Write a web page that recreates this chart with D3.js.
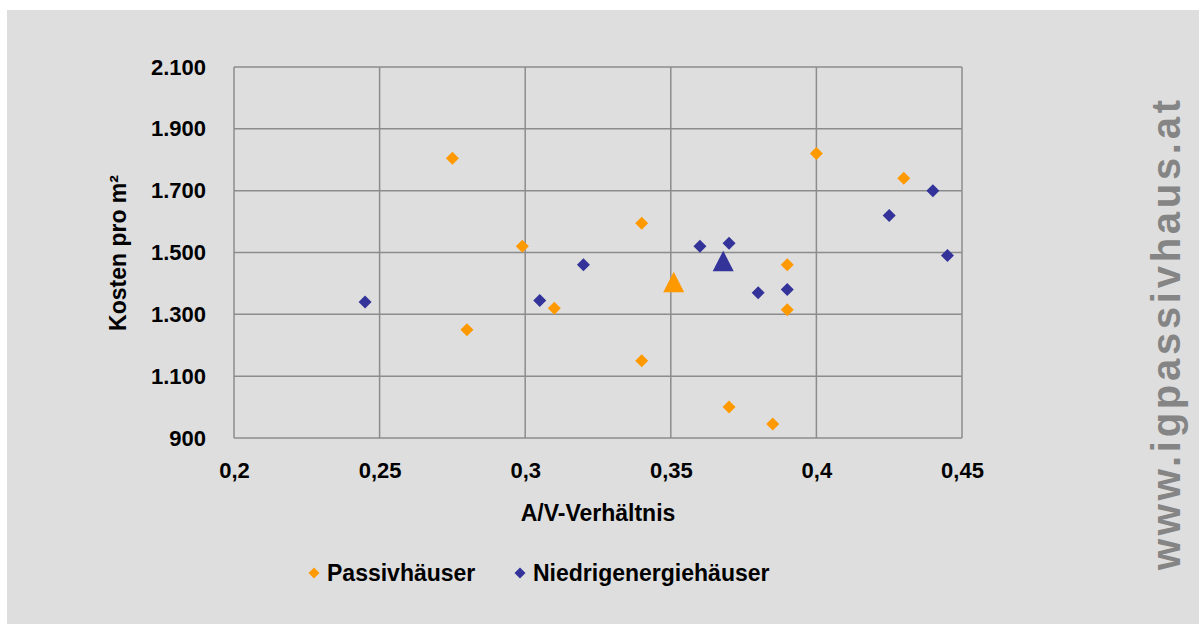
<!DOCTYPE html>
<html><head><meta charset="utf-8">
<script src="https://cdn.jsdelivr.net/npm/d3@7"></script>
<style>html,body{margin:0;padding:0;background:#fff;}svg{display:block;font-family:"Liberation Sans",Arial,sans-serif;}</style>
</head><body>
<svg id="c" width="1199" height="624"></svg>
<script>
const passivX = [0.275, 0.28, 0.299, 0.31, 0.34, 0.34, 0.37, 0.385, 0.39, 0.39, 0.40, 0.43];
const passivY = [1805, 1250, 1520, 1320, 1595, 1150, 1000, 945, 1460, 1315, 1820, 1740];
const niedrigX = [0.245, 0.305, 0.32, 0.36, 0.37, 0.38, 0.39, 0.425, 0.44, 0.445];
const niedrigY = [1340, 1345, 1460, 1520, 1530, 1370, 1380, 1620, 1700, 1490];
const passivMean = [0.351, 1404];
const niedrigMean = [0.368, 1472];
const xTicks = [0.2, 0.25, 0.3, 0.35, 0.4, 0.45];
const yTicks = [900, 1100, 1300, 1500, 1700, 1900, 2100];
const seriesNames = ["Passivhäuser", "Niedrigenergiehäuser"];
const colors = ["#FF9900", "#333399"];

const svg = d3.select("#c");
svg.append("rect").attr("x",7).attr("y",10).attr("width",1192).attr("height",614).attr("fill","#dedede");

const L=234, R=962, T=67, B=438;
const x = d3.scaleLinear().domain([0.2,0.45]).range([L,R]);
const y = d3.scaleLinear().domain([900,2100]).range([B,T]);

const g = svg.append("g");
g.selectAll(".vg").data(xTicks).join("line")
 .attr("x1",d=>x(d)).attr("x2",d=>x(d)).attr("y1",T).attr("y2",B)
 .attr("stroke","#8c8c8c").attr("stroke-width",1.5);
g.selectAll(".hg").data(yTicks).join("line")
 .attr("x1",L).attr("x2",R).attr("y1",d=>y(d)).attr("y2",d=>y(d))
 .attr("stroke","#8c8c8c").attr("stroke-width",1.5);

const fmtX = d => String(+d.toFixed(2)).replace(".",",");
const fmtY = d => d3.format(",")(d).replace(",",".");
const FF = "'Liberation Sans',Arial,sans-serif";

const xAxis = d3.axisBottom(x).tickValues(xTicks).tickFormat(fmtX).tickSize(0).tickPadding(24);
const xa = svg.append("g").attr("transform",`translate(0,${B})`).call(xAxis);
xa.select(".domain").remove();
xa.selectAll("text").attr("font-size",22).attr("font-weight","bold").attr("fill","#000").attr("font-family",FF);

const yAxis = d3.axisLeft(y).tickValues(yTicks).tickFormat(fmtY).tickSize(0).tickPadding(28);
const ya = svg.append("g").attr("transform",`translate(${L},0)`).call(yAxis);
ya.select(".domain").remove();
ya.selectAll("text").attr("font-size",22).attr("font-weight","bold").attr("fill","#000").attr("font-family",FF);

svg.append("text").attr("x",598).attr("y",521).attr("text-anchor","middle")
 .attr("font-size",23).attr("font-weight","bold").text("A/V-Verhältnis");
svg.append("text").attr("transform","translate(126,253) rotate(-90)").attr("text-anchor","middle")
 .attr("font-size",23).attr("font-weight","bold").text("Kosten pro m²");

const diamondPath = "M0,-6.5L6.5,0L0,6.5L-6.5,0Z";
function drawSeries(xs, ys, col){
  svg.append("g").selectAll("path").data(xs.map((v,i)=>[v,ys[i]])).join("path")
   .attr("d",diamondPath).attr("fill",col)
   .attr("transform",d=>`translate(${x(d[0])},${y(d[1])})`);
}
drawSeries(passivX, passivY, colors[0]);
drawSeries(niedrigX, niedrigY, colors[1]);

const tri = "M0,-10.5L10.5,10L-10.5,10Z";
svg.append("path").attr("d",tri).attr("fill",colors[0]).attr("transform",`translate(${x(passivMean[0])},${y(passivMean[1])})`);
svg.append("path").attr("d",tri).attr("fill",colors[1]).attr("transform",`translate(${x(niedrigMean[0])},${y(niedrigMean[1])})`);

const legX = [314, 520];
seriesNames.forEach((n,i)=>{
  svg.append("path").attr("d","M0,-5.5L5.5,0L0,5.5L-5.5,0Z").attr("fill",colors[i]).attr("transform",`translate(${legX[i]},573)`);
  svg.append("text").attr("x",legX[i]+13).attr("y",581).attr("font-size",23).attr("font-weight","bold").text(n);
});

svg.append("text").attr("transform","translate(1180,335) rotate(-90)").attr("text-anchor","middle")
 .attr("font-size",40).attr("font-weight","bold").attr("fill","#858585")
 .attr("textLength",470).attr("lengthAdjust","spacing").text("www.igpassivhaus.at");
</script>
</body></html>
